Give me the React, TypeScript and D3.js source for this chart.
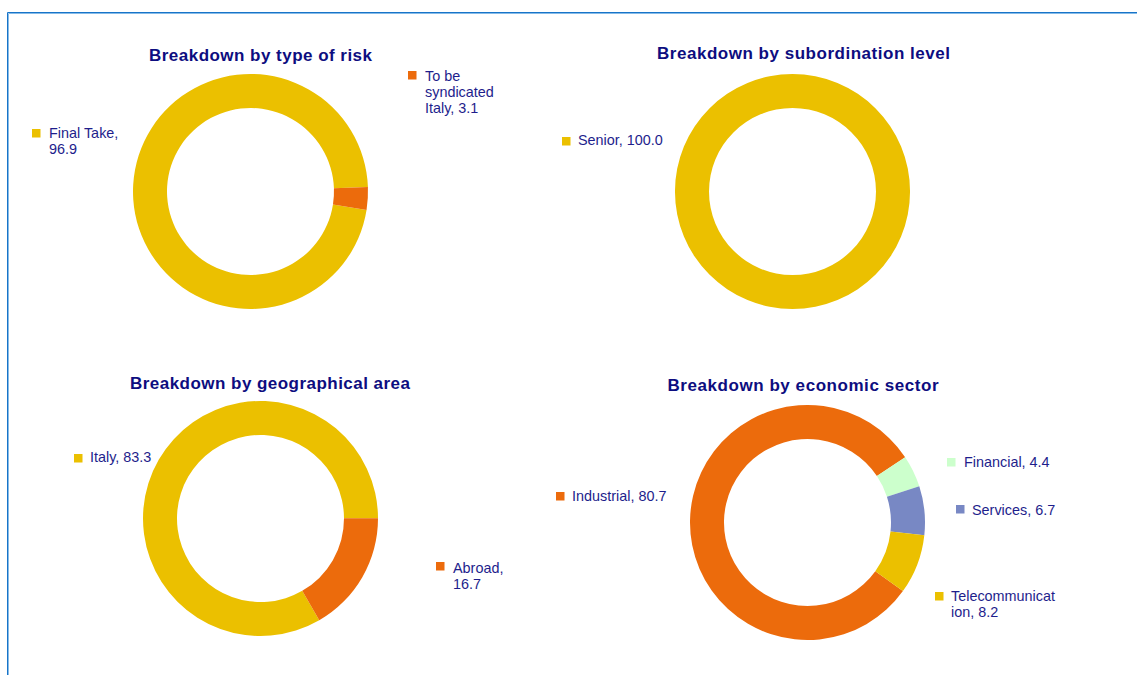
import React from "react";
import * as d3 from "d3";

// ---- data ----
const riskLabels = ["Final Take", "To be syndicated Italy"];
const riskValues = [96.9, 3.1];
const subordLabels = ["Senior"];
const subordValues = [100.0];
const geoLabels = ["Italy", "Abroad"];
const geoValues = [83.3, 16.7];
const sectorLabels = ["Industrial", "Financial", "Services", "Telecommunication"];
const sectorValues = [80.7, 4.4, 6.7, 8.2];

const titles = [
  "Breakdown by type of risk",
  "Breakdown by subordination level",
  "Breakdown by geographical area",
  "Breakdown by economic sector",
];

// ---- styling / layout ----
const YELLOW = "#EBC000";
const ORANGE = "#EC6B0C";
const GREEN = "#CCFFCC";
const BLUE = "#7888C4";
const TITLE_COLOR = "#0D0D80";
const TEXT_COLOR = "#1E1E8C";

type Legend = { sq: [number, number]; tx: [number, number]; lines: string[] };

const charts = [
  {
    title: titles[0],
    titleX: 260.5, titleY: 61, titleW: 223,
    cx: 250.5, cy: 191.5, start: 99,
    labels: riskLabels, values: riskValues, colors: [YELLOW, ORANGE],
    legends: [
      { sq: [32, 129], tx: [49, 138], lines: ["Final Take,", "96.9"] },
      { sq: [408, 71], tx: [425, 81], lines: ["To be", "syndicated", "Italy, 3.1"] },
    ] as Legend[],
  },
  {
    title: titles[1],
    titleX: 803.5, titleY: 59, titleW: 293,
    cx: 792.5, cy: 191.5, start: 0,
    labels: subordLabels, values: subordValues, colors: [YELLOW],
    legends: [{ sq: [562, 137], tx: [578, 145], lines: ["Senior, 100.0"] }] as Legend[],
  },
  {
    title: titles[2],
    titleX: 270, titleY: 389, titleW: 280,
    cx: 260.5, cy: 518.5, start: 150,
    labels: geoLabels, values: geoValues, colors: [YELLOW, ORANGE],
    legends: [
      { sq: [74, 454], tx: [90, 462], lines: ["Italy, 83.3"] },
      { sq: [436, 562], tx: [453, 573], lines: ["Abroad,", "16.7"] },
    ] as Legend[],
  },
  {
    title: titles[3],
    titleX: 803, titleY: 391, titleW: 271,
    cx: 807.5, cy: 522.5, start: 125.7,
    labels: sectorLabels, values: sectorValues, colors: [ORANGE, GREEN, BLUE, YELLOW],
    legends: [
      { sq: [556, 492], tx: [572, 501], lines: ["Industrial, 80.7"] },
      { sq: [947, 458], tx: [964, 467], lines: ["Financial, 4.4"] },
      { sq: [956, 505], tx: [972, 515], lines: ["Services, 6.7"] },
      { sq: [935, 592], tx: [951, 601], lines: ["Telecommunicat", "ion, 8.2"] },
    ] as Legend[],
  },
];

const OUTER = 117.5;
const INNER = 83.5;
const FONT = "'Liberation Sans', Arial, Helvetica, sans-serif";

export default function App() {
  const arc = d3.arc<d3.PieArcDatum<number>>().innerRadius(INNER).outerRadius(OUTER);
  return (
    <svg
      width={1137}
      height={675}
      style={{ position: "absolute", left: 0, top: 0, background: "#fff" }}
      fontFamily={FONT}
    >
      <rect x={0} y={0} width={1137} height={675} fill="#fff" />
      <path d="M7.5,675 V12.5 H1137" fill="none" stroke="#1874C8" strokeWidth={1} />
      <path d="M8.5,675 V13.5 H1137" fill="none" stroke="#86BBE8" strokeWidth={1} />
      {charts.map((c, ci) => {
        const s = (c.start * Math.PI) / 180;
        const pie = d3.pie<number>().sort(null).value((d) => d).startAngle(s).endAngle(s + 2 * Math.PI);
        const arcs = pie(c.values);
        return (
          <g key={ci}>
            <text
              x={c.titleX}
              y={c.titleY}
              textAnchor="middle"
              fontSize={17}
              fontWeight="bold"
              fill={TITLE_COLOR}
              textLength={c.titleW}
              lengthAdjust="spacing"
            >
              {c.title}
            </text>
            <g transform={`translate(${c.cx},${c.cy})`}>
              {arcs.map((a, i) => (
                <path key={i} d={arc(a) || ""} fill={c.colors[i]} />
              ))}
            </g>
            {c.legends.map((l, i) => (
              <g key={i}>
                <rect x={l.sq[0]} y={l.sq[1]} width={8.5} height={8.5} fill={c.colors[i]} />
                <text x={l.tx[0]} y={l.tx[1]} fontSize={14.4} fill={TEXT_COLOR}>
                  {l.lines.map((ln, j) => (
                    <tspan key={j} x={l.tx[0]} dy={j === 0 ? 0 : 16}>
                      {ln}
                    </tspan>
                  ))}
                </text>
              </g>
            ))}
          </g>
        );
      })}
    </svg>
  );
}
